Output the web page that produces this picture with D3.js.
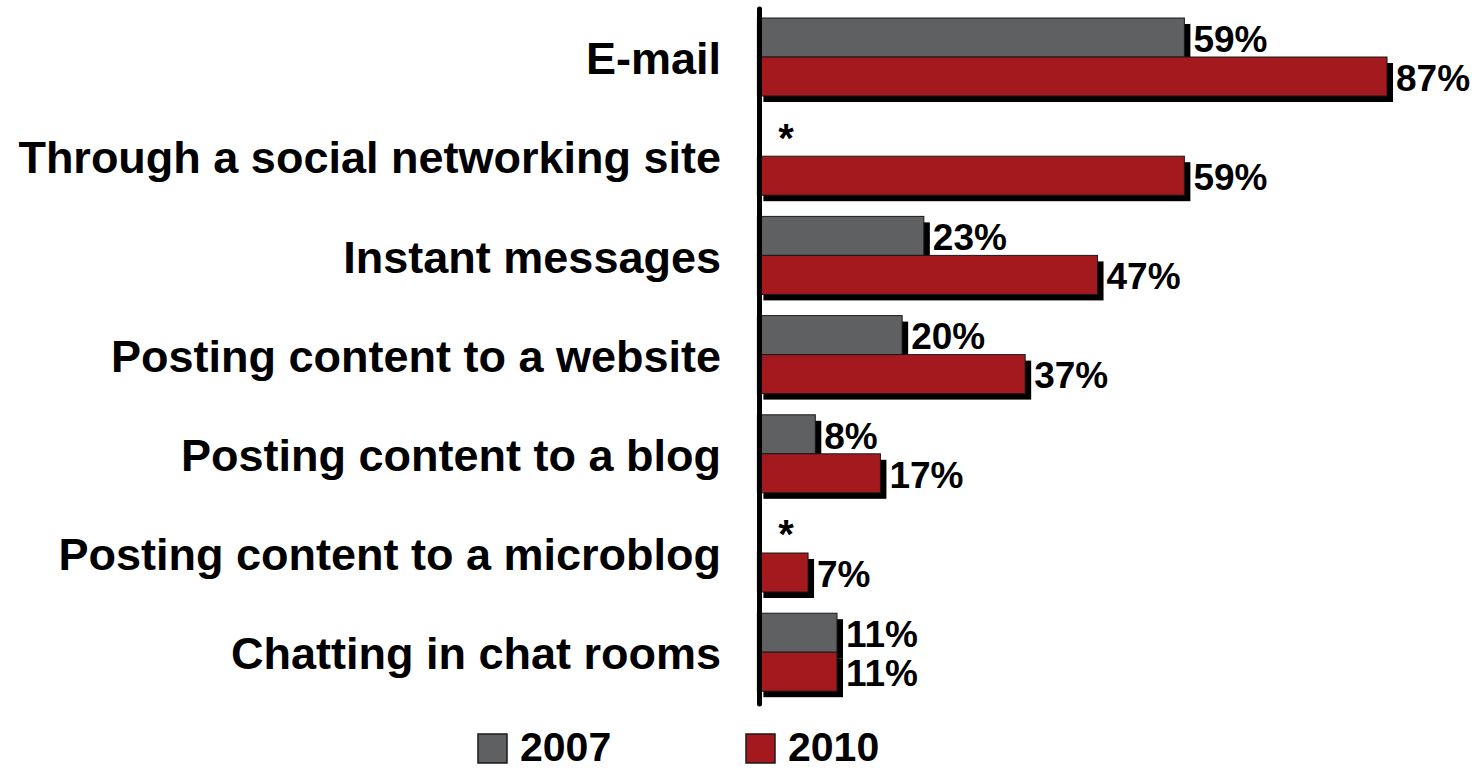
<!DOCTYPE html>
<html>
<head>
<meta charset="utf-8">
<script src="https://cdn.jsdelivr.net/npm/d3@7"></script>
<style>
  body { margin: 0; background: #fff; }
  svg { display: block; }
</style>
</head>
<body>
<svg class="chart"></svg>
<script>
const width = 1482, height = 770;

const categories = [
  "E-mail",
  "Through a social networking site",
  "Instant messages",
  "Posting content to a website",
  "Posting content to a blog",
  "Posting content to a microblog",
  "Chatting in chat rooms"
];
const years = ["2007", "2010"];
// null = not asked that year (shown with an asterisk)
const values2007 = [59, null, 23, 20, 8, null, 11];
const values2010 = [87, 59, 47, 37, 17, 7, 11];

const colors = { "2007": "#5f6062", "2010": "#a3191e" };
const shadow = 6;

const rows = [];
categories.forEach((c, i) => {
  rows.push({ cat: c, year: "2007", value: values2007[i] });
  rows.push({ cat: c, year: "2010", value: values2010[i] });
});

const svg = d3.select(".chart")
  .attr("width", width)
  .attr("height", height)
  .attr("font-family", "'Liberation Sans', Arial, sans-serif")
  .attr("font-weight", "bold");

const x = d3.scaleLinear().domain([0, 100]).range([757.4, 757.4 + 723.7]);

const y = d3.scaleBand()
  .domain(categories)
  .range([18, 691.2])
  .paddingInner(0.2137)
  .paddingOuter(0);

const ySub = d3.scaleBand().domain(years).range([0, y.bandwidth()]);

const present = rows.filter(d => d.value !== null);
const missing = rows.filter(d => d.value === null);

// shadows
svg.append("g")
  .selectAll("rect")
  .data(present)
  .enter().append("rect")
    .attr("x", x(0) + shadow)
    .attr("y", d => y(d.cat) + ySub(d.year) + shadow)
    .attr("width", d => x(d.value) - x(0))
    .attr("height", ySub.bandwidth())
    .attr("fill", "#000");

// bars
svg.append("g")
  .selectAll("rect")
  .data(present)
  .enter().append("rect")
    .attr("x", x(0))
    .attr("y", d => y(d.cat) + ySub(d.year))
    .attr("width", d => x(d.value) - x(0))
    .attr("height", ySub.bandwidth())
    .attr("fill", d => colors[d.year])
    .attr("stroke", "#1a1a1a")
    .attr("stroke-width", 1);

// value labels
svg.append("g")
  .attr("font-size", 37)
  .selectAll("text")
  .data(present)
  .enter().append("text")
    .attr("x", d => x(d.value) + shadow + 3)
    .attr("y", d => y(d.cat) + ySub(d.year) + ySub.bandwidth() / 2 + 1)
    .attr("dy", "0.36em")
    .attr("fill", "#000")
    .text(d => d.value + "%");

// asterisks for not-asked
svg.append("g")
  .attr("font-size", 40)
  .selectAll("text")
  .data(missing)
  .enter().append("text")
    .attr("x", 786)
    .attr("y", d => y(d.cat) + ySub(d.year) + ySub.bandwidth() / 2 - 8)
    .attr("dy", "0.575em")
    .attr("text-anchor", "middle")
    .text("*");

// category labels
svg.append("g")
  .attr("font-size", 45)
  .selectAll("text")
  .data(categories)
  .enter().append("text")
    .attr("x", 721)
    .attr("y", d => y(d) + y.bandwidth() / 2 + 1)
    .attr("dy", "0.36em")
    .attr("text-anchor", "end")
    .text(d => d);

// axis line
svg.append("line")
  .attr("x1", 759.5).attr("x2", 759.5)
  .attr("y1", 9).attr("y2", 704)
  .attr("stroke", "#000")
  .attr("stroke-width", 5)
  .attr("stroke-linecap", "round");

// legend
const legendX = [478, 746];
const legend = svg.append("g")
  .selectAll("g")
  .data(years)
  .enter().append("g")
    .attr("transform", (d, i) => `translate(${legendX[i]},734)`);

legend.append("rect")
  .attr("width", 29)
  .attr("height", 29)
  .attr("fill", d => colors[d])
  .attr("stroke", "#1a1a1a")
  .attr("stroke-width", 1.5);

legend.append("text")
  .attr("x", 42)
  .attr("y", 27)
  .attr("font-size", 41)
  .text(d => d);
</script>
</body>
</html>
